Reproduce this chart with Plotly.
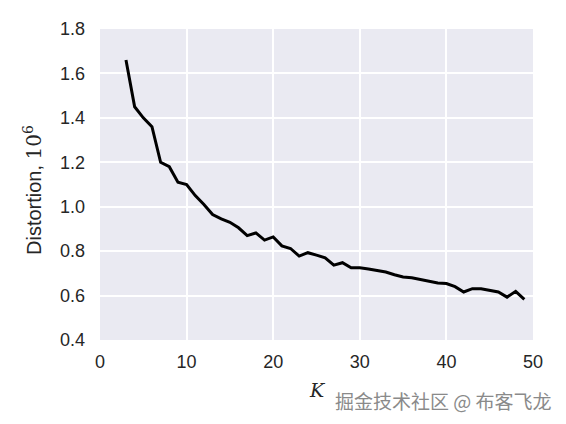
import plotly.graph_objects as go

K = list(range(3, 50))
distortion = [1.66, 1.45, 1.40, 1.36, 1.20, 1.18, 1.11, 1.10, 1.05, 1.01,
              0.965, 0.945, 0.93, 0.905, 0.87, 0.882, 0.85, 0.864, 0.824, 0.812,
              0.778, 0.793, 0.782, 0.77, 0.737, 0.748, 0.725, 0.725, 0.72, 0.712,
              0.706, 0.694, 0.684, 0.68, 0.673, 0.664, 0.657, 0.654, 0.64, 0.616,
              0.631, 0.631, 0.623, 0.616, 0.593, 0.619, 0.583]

x_ticks = [0, 10, 20, 30, 40, 50]
y_ticks = [0.4, 0.6, 0.8, 1.0, 1.2, 1.4, 1.6, 1.8]

fig = go.Figure(go.Scatter(x=K, y=distortion, mode="lines",
                           line=dict(color="black", width=3)))

OFF = 8  # page body margin
W, H = 566, 424
L, T = 100 - OFF, 29 - OFF
pw, ph = 433, 311
R, B = W - L - pw, H - T - ph


def px(xs):
    return (xs - OFF - L) / pw


def py(ys):
    return 1 - (ys - OFF - T) / ph


font = dict(family="Liberation Sans, Arial, sans-serif", size=18, color="#262626")
fig.update_layout(
    width=W, height=H,
    margin=dict(l=L, r=R, t=T, b=B),
    paper_bgcolor="white", plot_bgcolor="#EAEAF2",
    showlegend=False, font=font,
    xaxis=dict(range=[0, 50], tickvals=x_ticks, ticktext=[str(v) for v in x_ticks],
               showgrid=True, gridcolor="white", gridwidth=1.5, zeroline=False,
               showline=False, ticks="", ticklabelstandoff=9, tickfont=font,
               automargin=False),
    yaxis=dict(range=[0.4, 1.8], tickvals=y_ticks, ticktext=[f"{v:.1f}" for v in y_ticks],
               showgrid=True, gridcolor="white", gridwidth=1.5, zeroline=False,
               showline=False, ticks="", ticklabelstandoff=14, tickfont=font,
               automargin=False),
    annotations=[
        dict(text="Distortion, <span style='font-family:DejaVu Serif, serif'>10<sup>6</sup></span>",
             xref="paper", yref="paper", x=px(33), y=py(190),
             showarrow=False, xanchor="center", yanchor="middle", textangle=-90,
             font=dict(family="Liberation Sans, Arial, sans-serif", size=20, color="#262626")),
        dict(text="K", xref="paper", yref="paper", x=px(317), y=py(390),
             showarrow=False, xanchor="center", yanchor="middle",
             font=dict(family="DejaVu Serif, serif", size=19, color="#262626", style="italic")),
        dict(text="掘金技术社区 @ 布客飞龙", xref="paper", yref="paper",
             x=px(554), y=py(400), showarrow=False,
             xanchor="right", yanchor="middle",
             font=dict(family="Noto Sans CJK SC", size=19, color="#8a8a8a")),
    ],
)

fig.write_html("out.html")
